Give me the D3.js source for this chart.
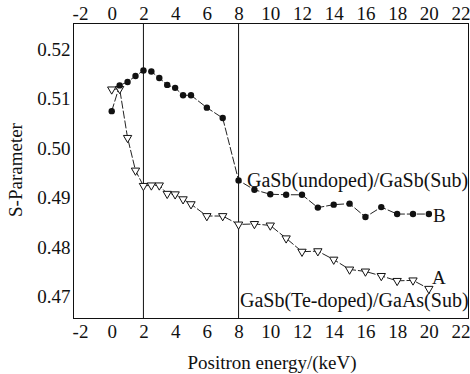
<!DOCTYPE html>
<html><head><meta charset="utf-8">
<script src="https://cdn.jsdelivr.net/npm/d3@7"></script>
<style>
html,body{margin:0;padding:0;background:#fff;}
svg text{font-family:"Liberation Serif","Times New Roman",serif !important;fill:#111;}
</style></head>
<body><svg id="c" width="470" height="374"></svg>
<script>
const energyB = [0,0.5,1,1.5,2,2.5,3,3.5,4,4.5,5,6,7,8,9,10,11,12,13,14,15,16,17,18,19,20];
const sB = [0.5075,0.5127,0.5134,0.5146,0.5157,0.5155,0.5142,0.5128,0.5122,0.5107,0.5107,0.5082,0.5061,0.4935,0.4916,0.4907,0.4906,0.4906,0.4880,0.4886,0.4888,0.4861,0.4881,0.4867,0.4867,0.4867];
const energyA = [0,0.5,1,1.5,2,2.5,3,3.5,4,4.5,5,6,7,8,9,10,11,12,13,14,15,16,17,18,19,20];
const sA = [0.5119,0.5120,0.5021,0.4955,0.4924,0.4925,0.4925,0.4908,0.4907,0.4897,0.4887,0.4863,0.4863,0.4846,0.4847,0.4844,0.4818,0.4791,0.4792,0.4775,0.4755,0.4751,0.4742,0.4732,0.4733,0.4716];
const xTicks = [-2,0,2,4,6,8,10,12,14,16,18,20,22];
const yTicks = [0.47,0.48,0.49,0.50,0.51,0.52];
const yTickLabels = ["0.47","0.48","0.49","0.50","0.51","0.52"];
const vLines = [2,8];

(function(){
const svg = d3.select("#c");
const L=73.5,R=468.5,T=23.5,B=318.5;
const x = d3.scaleLinear().domain([-2.41,22.5]).range([L,R]);
const y = d3.scaleLinear().domain([0.46559,0.52521]).range([B,T]);
const fs = 19;

svg.append("rect").attr("x",L).attr("y",T).attr("width",R-L).attr("height",B-T)
  .attr("fill","none").attr("stroke","#111").attr("stroke-width",1);

const gBottom = svg.append("g").attr("transform",`translate(0,${B})`)
  .call(d3.axisBottom(x).tickValues(xTicks).tickSize(0).tickPadding(6).tickFormat(d=>String(d)));
const gTop = svg.append("g").attr("transform",`translate(0,${T})`)
  .call(d3.axisTop(x).tickValues(xTicks).tickSize(0).tickPadding(4).tickFormat(d=>String(d)));
const gLeft = svg.append("g").attr("transform",`translate(${L},0)`)
  .call(d3.axisLeft(y).tickValues(yTicks).tickSize(0).tickPadding(3).tickFormat((d,i)=>yTickLabels[i]));
[gBottom,gTop,gLeft].forEach(g=>{
  g.attr("font-family",null).attr("font-size",null);
  g.select(".domain").remove();
  g.selectAll("text").attr("font-family","Liberation Serif").style("font-size",fs+"px").attr("fill","#111");
});

svg.selectAll(".vl").data(vLines).enter().append("line")
  .attr("x1",d=>x(d)).attr("x2",d=>x(d)).attr("y1",T).attr("y2",B)
  .attr("stroke","#111").attr("stroke-width",1);

const line = d3.line().x(d=>x(d[0])).y(d=>y(d[1]));
const dA = energyA.map((e,i)=>[e,sA[i]]);
const dB = energyB.map((e,i)=>[e,sB[i]]);

svg.append("path").datum(dA).attr("d",line).attr("fill","none")
  .attr("stroke","#222").attr("stroke-width",1).attr("stroke-dasharray","8,2");
svg.append("path").datum(dB).attr("d",line).attr("fill","none")
  .attr("stroke","#222").attr("stroke-width",1).attr("stroke-dasharray","8,2");

const tri = d3.symbol().type(d3.symbolTriangle).size(30);
svg.selectAll(".ta").data(dA).enter().append("path")
  .attr("d",tri).attr("transform",d=>`translate(${x(d[0])},${y(d[1])}) rotate(180)`)
  .attr("fill","#fff").attr("stroke","#111").attr("stroke-width",1);
svg.selectAll(".cb").data(dB).enter().append("circle")
  .attr("cx",d=>x(d[0])).attr("cy",d=>y(d[1])).attr("r",3.2).attr("fill","#111");

function txt(t,xx,yy,anchor,size){
  return svg.append("text").attr("x",xx).attr("y",yy).attr("text-anchor",anchor||"start")
    .style("font-size",(size||fs)+"px").text(t);
}
txt("GaSb(undoped)/GaSb(Sub)",247,187,"start",20);
txt("B",433,222);
txt("A",432,284);
txt("GaSb(Te-doped)/GaAs(Sub)",240,307,"start",20);
txt("Positron energy/(keV)",272,369,"middle");
svg.append("text").attr("transform","translate(22,170) rotate(-90)").attr("text-anchor","middle")
  .style("font-size",fs+"px").text("S-Parameter");
})();
</script>
</body></html>
